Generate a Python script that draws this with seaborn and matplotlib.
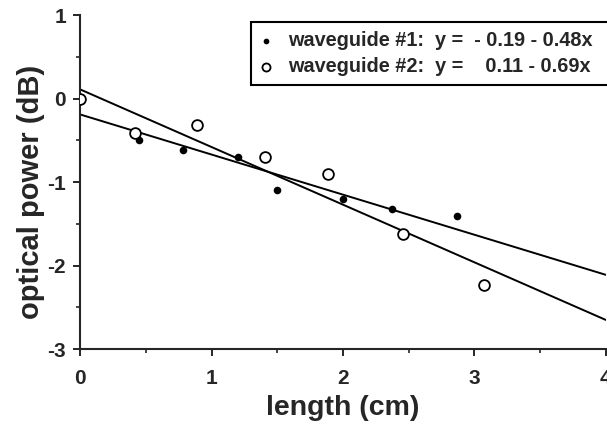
import matplotlib
matplotlib.use("Agg")
import matplotlib.pyplot as plt
import seaborn as sns
import numpy as np
import pandas as pd
from matplotlib.ticker import MultipleLocator

# measured points
wg1_length = [0.45, 0.78, 1.20, 1.50, 2.00, 2.37, 2.87]
wg1_power = [-0.50, -0.61, -0.70, -1.10, -1.20, -1.32, -1.41]
wg2_length = [0.00, 0.42, 0.89, 1.41, 1.89, 2.46, 3.07]
wg2_power = [0.00, -0.41, -0.32, -0.70, -0.90, -1.62, -2.23]

# linear fits (intercept, slope) as given in the legend
wg1_fit = (-0.19, -0.48)
wg2_fit = (0.11, -0.69)
fit_range = [0.0, 4.0]

wg1_label = "waveguide #1:  y =  - 0.19 - 0.48x"
wg2_label = "waveguide #2:  y =    0.11 - 0.69x"

sns.set_style("ticks")
plt.rcParams['font.family'] = ['Liberation Sans', 'DejaVu Sans']
plt.rcParams['font.weight'] = 'bold'
plt.rcParams['axes.unicode_minus'] = False

fig = plt.figure(figsize=(6.07, 4.30), dpi=100)
ax = fig.add_axes([0.132, 0.188, 0.866, 0.777])

# fitted lines
for (b, m) in (wg1_fit, wg2_fit):
    xs = np.array(fit_range)
    fit_df = pd.DataFrame({'x': xs, 'y': b + m * xs})
    sns.lineplot(data=fit_df, x='x', y='y', ax=ax, color='black', linewidth=1.4)

df1 = pd.DataFrame({'length': wg1_length, 'power': wg1_power})
df2 = pd.DataFrame({'length': wg2_length, 'power': wg2_power})
sns.scatterplot(data=df1, x='length', y='power', ax=ax, color='black',
                s=30, edgecolor='black', linewidth=0, label=wg1_label, zorder=3)
sns.scatterplot(data=df2, x='length', y='power', ax=ax, facecolor='white',
                s=60, edgecolor='black', linewidth=1.3, label=wg2_label, zorder=3)

ax.set_xlim(0, 4)
ax.set_ylim(-3, 1)
ax.xaxis.set_major_locator(MultipleLocator(1))
ax.xaxis.set_minor_locator(MultipleLocator(0.5))
ax.yaxis.set_major_locator(MultipleLocator(1))
ax.yaxis.set_minor_locator(MultipleLocator(0.5))
ax.tick_params(which='major', direction='out', length=5, width=1.4, labelsize=15)
ax.tick_params(axis='x', which='major', pad=9)
ax.tick_params(axis='y', which='major', pad=5)
ax.tick_params(which='minor', direction='out', length=3, width=1.2)
for lab in ax.get_xticklabels() + ax.get_yticklabels():
    lab.set_fontweight('bold')

sns.despine(ax=ax)
for sp in ('left', 'bottom'):
    ax.spines[sp].set_linewidth(1.5)

ax.set_xlabel('length (cm)', fontsize=20.5, fontweight='bold', labelpad=5)
ax.set_ylabel('optical power (dB)', fontsize=21, fontweight='bold', labelpad=2)
ax.yaxis.label.set_y(0.472)

leg = ax.legend(loc='upper left', bbox_to_anchor=(0.326, 0.5, 0.72, 0.479),
                mode='expand', frameon=True,
                fancybox=False, handletextpad=0.8, borderpad=0.45,
                labelspacing=0.35, prop={'weight': 'bold', 'size': 14.3},
                handlelength=0.6, markerscale=0.75, borderaxespad=0)
leg.get_frame().set_edgecolor('black')
leg.get_frame().set_linewidth(1.5)
leg.get_frame().set_alpha(1)

fig.savefig('out.png', dpi=100)
